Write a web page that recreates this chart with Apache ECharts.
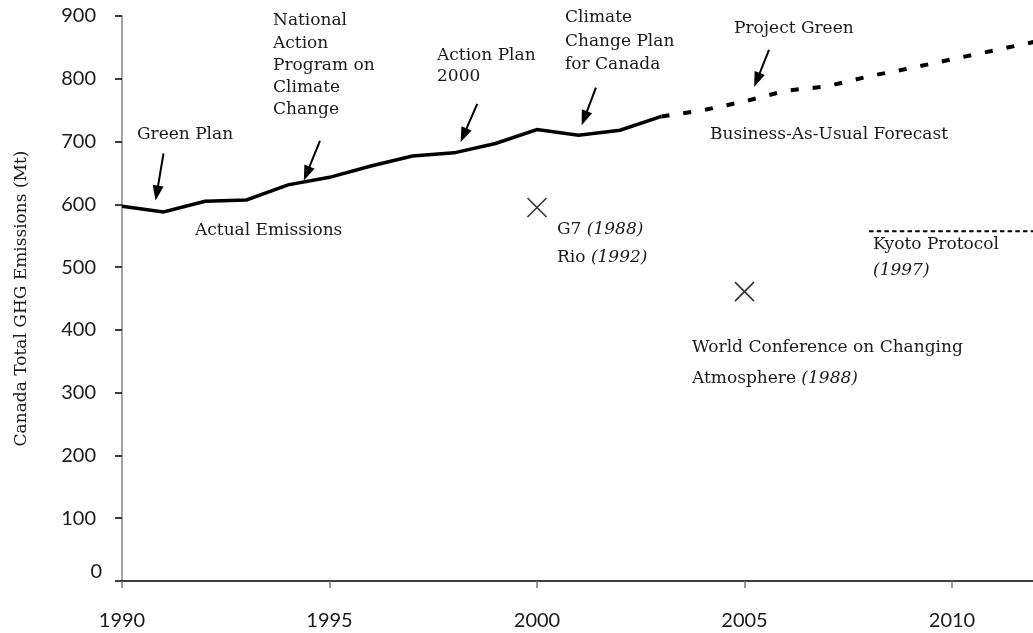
<!DOCTYPE html>
<html><head><meta charset="utf-8">
<script src="https://cdn.jsdelivr.net/npm/echarts@6/dist/echarts.min.js"></script>
<style>html,body{margin:0;padding:0;background:#fff}#c{width:1033px;height:633px}</style>
</head><body><div id="c"></div>
<script>
// ---- data ----
const actualYears = [1990,1991,1992,1993,1994,1995,1996,1997,1998,1999,2000,2001,2002,2003];
const actualValues = [597,588,605,607,631,643,661,677,682,697,719,710,718,740];
const forecastYears = [2003,2004,2005,2006,2007,2008,2009,2010,2011,2012];
const forecastValues = [740,750,764,781,788,804,817,831,845,859];
const kyotoYears = [2008,2012];
const kyotoValues = [557,557];
const eventYears = [2000,2005];
const eventValues = [595,461];
const xMin = 1990, xMax = 2012, xStep = 5;
const yMin = 0, yMax = 900, yStep = 100;
const yAxisTitle = 'Canada Total GHG Emissions (Mt)';
// annotation arrows, in data units
const arrowFromYears = [1991.0, 1994.77, 1998.56, 2001.42, 2005.59];
const arrowFromValues = [681, 701, 760, 786, 846];
const arrowToYears = [1990.84, 1994.45, 1998.23, 2001.14, 2005.30];
const arrowToValues = [618, 649, 710, 737, 798];
// annotation texts
const noteTexts = ['Green Plan','Actual Emissions',
  'National','Action','Program on','Climate','Change',
  'Action Plan','2000',
  'Climate','Change Plan','for Canada',
  'Project Green','Business-As-Usual Forecast',
  'G7 {i|(1988)}','Rio {i|(1992)}',
  'Kyoto Protocol','{i|(1997)}',
  'World Conference on Changing','Atmosphere {i|(1988)}'];

// ---- layout (pixels) ----
const notePos = [[137,135],[195,231],
  [273,20.7],[273,43.2],[273,65.2],[273,87.5],[273,109.7],
  [437,55.2],[437,76.8],
  [565,17.5],[565,41.5],[565,64.4],
  [734,28.7],[710,135],
  [557,229.8],[557,257.2],
  [873,245],[873,271],
  [692,348],[692,378.5]];

const serif = 'DejaVu Serif';
const sans = 'Lato';
const ink = '#1a1a1a';

const chart = echarts.init(document.getElementById('c'), null, {renderer:'canvas'});

const arrows = arrowFromYears.map((fx,i)=>[
  {coord:[fx, arrowFromValues[i]]},
  {coord:[arrowToYears[i], arrowToValues[i]]}
]);

const graphics = noteTexts.map((t,i)=>({
  type:'text', x: notePos[i][0], y: notePos[i][1], silent:true,
  style:{text:t, fontFamily:serif, fontSize:17, fill:ink, align:'left', verticalAlign:'middle',
    rich:{i:{fontStyle:'italic', fontFamily:serif, fontSize:17, fill:ink}}}
}));

chart.setOption({
  animation:false,
  backgroundColor:'#fff',
  grid:{left:122, right:-2, top:16, bottom:52, containLabel:false, outerBoundsMode:'none'},
  xAxis:{
    type:'value', min:xMin, max:xMax, interval:xStep,
    axisLine:{onZero:false, lineStyle:{color:'#000', width:1.5}},
    axisTick:{show:true, inside:false, length:7, lineStyle:{color:'#777', width:1.5}},
    splitLine:{show:false},
    axisLabel:{inside:false, margin:30, fontFamily:sans, fontSize:20, color:ink, showMaxLabel:false,
      formatter:v=> (v % xStep === 0 ? String(v) : '')}
  },
  yAxis:{
    type:'value', min:yMin, max:yMax, interval:yStep,
    name:yAxisTitle, nameLocation:'middle', nameRotate:90, nameGap:92,
    nameTextStyle:{fontFamily:serif, fontSize:17, color:ink},
    axisLine:{show:true, onZero:false, lineStyle:{color:'#888', width:1.5}},
    axisTick:{show:true, inside:false, length:7, lineStyle:{color:'#000', width:1.5}},
    splitLine:{show:false},
    axisLabel:{inside:false, margin:20, fontFamily:sans, fontSize:20, color:ink,
      formatter:v=> v === 0 ? '{z|0}' : '{n|' + v + '}',
      rich:{n:{padding:[0,6,0,0], fontFamily:sans, fontSize:20, color:ink},
            z:{padding:[0,0,18,0], fontFamily:sans, fontSize:20, color:ink}}}
  },
  series:[
    {type:'line', name:'Actual', data:actualYears.map((y,i)=>[y,actualValues[i]]),
     showSymbol:false, symbol:'none', silent:true,
     lineStyle:{color:'#000', width:3.5, join:'miter'},
     markLine:{silent:true, symbol:['none','triangle'], symbolSize:[11,15],
       label:{show:false}, lineStyle:{color:'#000', width:2, type:'solid'},
       emphasis:{disabled:true}, data:arrows}},
    {type:'line', name:'Forecast', data:forecastYears.map((y,i)=>[y,forecastValues[i]]),
     showSymbol:false, symbol:'none', silent:true,
     lineStyle:{color:'#000', width:4, type:[8,14]}},
    {type:'line', name:'Kyoto', data:kyotoYears.map((y,i)=>[y,kyotoValues[i]]),
     showSymbol:false, symbol:'none', silent:true,
     lineStyle:{color:'#000', width:2, type:[4.5,3.2]}},
    {type:'scatter', name:'Events', data:eventYears.map((y,i)=>[y,eventValues[i]]),
     symbol:'path://M0,0L10,10M10,0L0,10', symbolSize:19, silent:true,
     itemStyle:{color:'none', borderColor:'#000', borderWidth:1.6}}
  ],
  graphic:graphics
});
</script>
</body></html>
